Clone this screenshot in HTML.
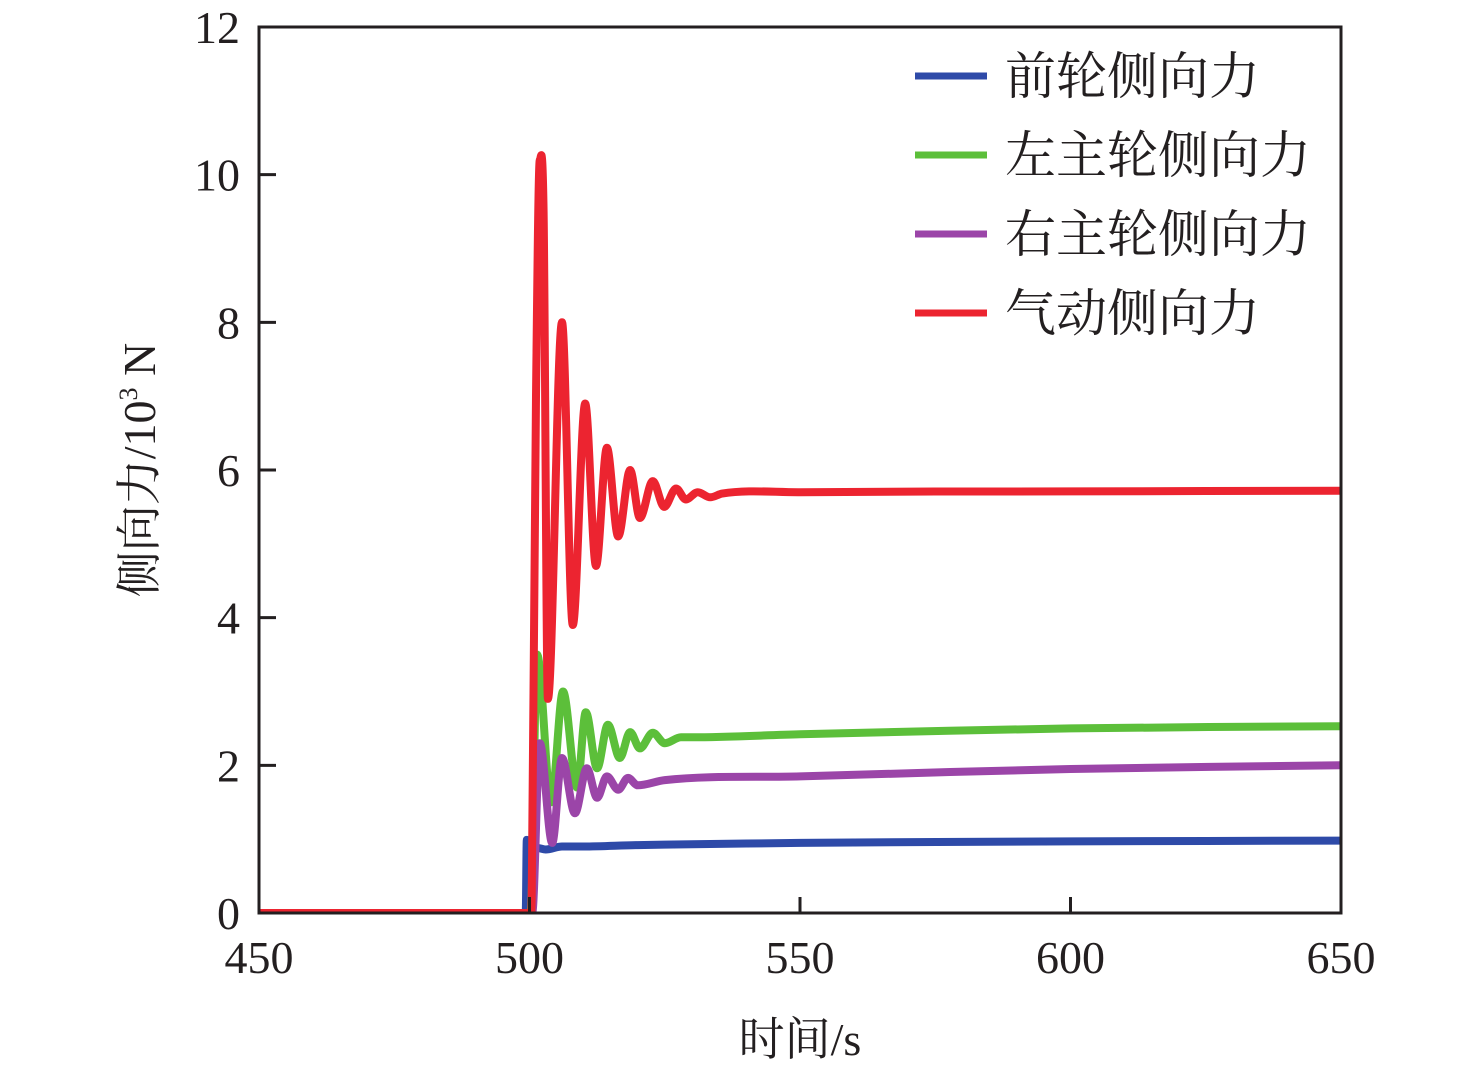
<!DOCTYPE html>
<html><head><meta charset="utf-8"><style>
body{margin:0;background:#fff;}
svg{display:block;}
text{font-family:"Liberation Serif","Noto Serif CJK SC",serif;fill:#231f20;}
</style></head><body>
<svg id="chart" width="1476" height="1070" viewBox="0 0 1476 1070">
<defs><clipPath id="plotclip"><rect x="259" y="27" width="1082" height="886"/></clipPath></defs>
<g id="series" clip-path="url(#plotclip)"></g>
<rect x="259" y="27" width="1082" height="886" fill="none" stroke="#231f20" stroke-width="3"/>
<g id="axes"></g>
<text x="800" y="1055" font-size="46" text-anchor="middle">时间/s</text>
<text transform="translate(155,470) rotate(-90)" font-size="46" text-anchor="middle">侧向力/10<tspan font-size="26" dy="-18">3</tspan><tspan dy="18"> N</tspan></text>
<g id="legend"></g>
</svg>
<script>
const xTicks=[450,500,550,600,650];
const yTicks=[0,2,4,6,8,10,12];
const seriesNames=["前轮侧向力","左主轮侧向力","右主轮侧向力","气动侧向力"];
const seriesColors=["#2e4aa8","#5cbf3a","#9b45a8","#ec2430"];
const frontT=[450,499.3,499.5,500.5,501.5,503,506,510,520,530,550,600,650];
const frontV=[0,0,0.99,0.86,0.88,0.86,0.9,0.9,0.92,0.93,0.95,0.97,0.98];
const leftT=[450,500.2,501.4,504,506.2,508.8,510.4,512.5,514.5,516.7,518.6,520.4,522.8,525,528,530,550,600,650];
const leftV=[0,0,3.5,1.5,3.0,1.7,2.72,1.96,2.55,2.1,2.45,2.23,2.44,2.3,2.38,2.38,2.42,2.5,2.53];
const rightT=[450,500.5,501.9,504.2,506,508.4,510.6,512.5,514.3,516.4,518.2,520,525,550,600,650];
const rightV=[0,0,2.3,0.95,2.1,1.35,1.96,1.56,1.85,1.67,1.83,1.73,1.8,1.85,1.95,2.0];
const aeroT=[450,500,500.4,501.2,501.9,502.6,503.4,506,508,510.3,512.3,514.3,516.4,518.6,520.4,522.8,524.9,527.1,528.9,531.1,533.4,535.6,550,600,650];
const aeroV=[0,0,0.2,7,10.2,9.5,2.9,8.0,3.9,6.9,4.7,6.3,5.1,6.0,5.35,5.85,5.5,5.75,5.6,5.7,5.63,5.68,5.7,5.71,5.72];
const seriesT=[frontT,leftT,rightT,aeroT];
const seriesV=[frontV,leftV,rightV,aeroV];
const seriesKeys=["front-wheel","left-main-wheel","right-main-wheel","aerodynamic"];
const NS="http://www.w3.org/2000/svg";
const X=t=>259+(t-450)*1082/200;
const Y=v=>913-v*886/12;
function smoothPath(pts){
  const n=pts.length;let d='M'+pts[0][0].toFixed(1)+','+pts[0][1].toFixed(1);
  const m=[];
  const s=[];for(let i=0;i<n-1;i++)s.push((pts[i+1][1]-pts[i][1])/(pts[i+1][0]-pts[i][0]));
  for(let i=0;i<n;i++){
    if(i===0)m.push(s[0]);else if(i===n-1)m.push(s[n-2]);
    else m.push(s[i-1]*s[i]<=0?0:(s[i-1]+s[i])/2);
  }
  for(let i=0;i<n-1;i++){
    const [x0,y0]=pts[i],[x1,y1]=pts[i+1],h=(x1-x0)/3;
    d+=' C'+(x0+h).toFixed(1)+','+(y0+m[i]*h).toFixed(1)+' '+(x1-h).toFixed(1)+','+(y1-m[i+1]*h).toFixed(1)+' '+x1.toFixed(1)+','+y1.toFixed(1);
  }
  return d;
}
const axes=document.getElementById('axes');
xTicks.forEach(t=>{
  if(t>450&&t<650){const l=document.createElementNS(NS,'line');
  l.setAttribute('x1',X(t));l.setAttribute('x2',X(t));l.setAttribute('y1',913);l.setAttribute('y2',897);
  l.setAttribute('stroke','#231f20');l.setAttribute('stroke-width',3);
  
  
  axes.appendChild(l);}
  const tx=document.createElementNS(NS,'text');
  tx.setAttribute('x',X(t));tx.setAttribute('y',973);tx.setAttribute('font-size',46);tx.setAttribute('text-anchor','middle');
  tx.textContent=t;
  
  
  axes.appendChild(tx);
});
yTicks.forEach(v=>{
  if(v>0&&v<12){const l=document.createElementNS(NS,'line');
  l.setAttribute('x1',259);l.setAttribute('x2',276);l.setAttribute('y1',Y(v));l.setAttribute('y2',Y(v));
  l.setAttribute('stroke','#231f20');l.setAttribute('stroke-width',3);
  
  
  axes.appendChild(l);}
  const tx=document.createElementNS(NS,'text');
  tx.setAttribute('x',240);tx.setAttribute('y',Y(v)+16);tx.setAttribute('font-size',46);tx.setAttribute('text-anchor','end');
  tx.textContent=v;
  
  
  axes.appendChild(tx);
});
const sg=document.getElementById('series');
seriesT.forEach((ts,i)=>{
  const p=document.createElementNS(NS,'path');
  p.setAttribute('d',smoothPath(ts.map((t,j)=>[X(t),Y(seriesV[i][j])])));
  p.setAttribute('fill','none');p.setAttribute('stroke',seriesColors[i]);p.setAttribute('stroke-width',8);p.setAttribute('stroke-linejoin','round');
  
  
  sg.appendChild(p);
});
const lg=document.getElementById('legend');
seriesNames.forEach((n,i)=>{
  const y=76+i*79;
  const g=document.createElementNS(NS,'g');
  
  
  const l=document.createElementNS(NS,'line');
  l.setAttribute('x1',915);l.setAttribute('x2',987);l.setAttribute('y1',y);l.setAttribute('y2',y);
  l.setAttribute('stroke',seriesColors[i]);l.setAttribute('stroke-width',7);
  
  
  const tx=document.createElementNS(NS,'text');
  tx.setAttribute('x',1005);tx.setAttribute('y',y+18);tx.setAttribute('font-size',51);
  tx.textContent=n;
  
  
  g.appendChild(l);g.appendChild(tx);lg.appendChild(g);
});
</script>
</body></html>
